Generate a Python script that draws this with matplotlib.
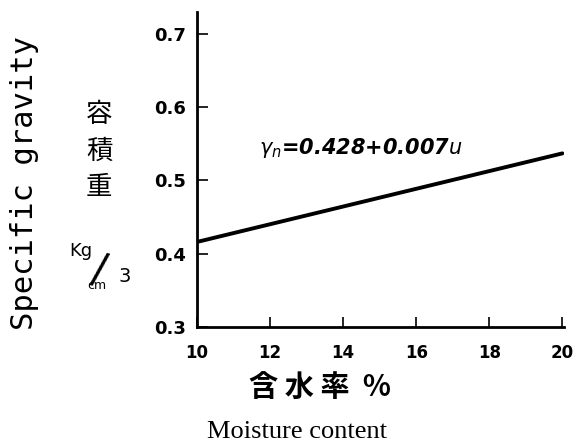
import matplotlib.pyplot as plt

plt.rcParams['font.family'] = ['DejaVu Sans', 'Noto Sans CJK JP']

# moisture content (%) and specific gravity
moisture = [10, 20]
gravity = [0.416, 0.537]

x_ticks = [10, 12, 14, 16, 18, 20]
y_ticks = [0.3, 0.4, 0.5, 0.6, 0.7]

fig = plt.figure(figsize=(5.74, 4.46), dpi=100)
ax = fig.add_axes([0.343, 0.267, 0.640, 0.706])

ax.plot(moisture, gravity, color='black', lw=2.8, solid_capstyle='round')

ax.set_xlim(10, 20.05)
ax.set_ylim(0.3, 0.73)
ax.set_xticks(x_ticks)
ax.set_yticks(y_ticks)
ax.set_xticklabels([str(t) for t in x_ticks], fontsize=12, fontweight='bold')
ax.set_yticklabels([f'{t:.1f}' for t in y_ticks], fontsize=13, fontweight='bold')
ax.tick_params(axis='x', direction='in', length=7, width=1.2, pad=12)
ax.tick_params(axis='y', direction='in', length=8, width=1.2, pad=8)

for side in ['top', 'right']:
    ax.spines[side].set_visible(False)
for side in ['left', 'bottom']:
    ax.spines[side].set_linewidth(2)

ax.text(11.7, 0.545, r'$\gamma_n$=0.428+0.007$u$', fontsize=15, fontweight='bold',
        style='italic', va='center')

# y axis labels
fig.text(0.042, 0.59, 'Specific gravity', rotation=90, fontsize=22,
         family='DejaVu Sans Mono', ha='center', va='center')
fig.text(0.173, 0.661, '容\n積\n重', fontsize=19, family='Noto Sans CJK JP',
         ha='center', va='center', linespacing=1.45)
# unit Kg/cm3 written as a slanted fraction
fig.text(0.141, 0.437, 'Kg', fontsize=13, ha='center', va='center')
fig.text(0.172, 0.392, '/', fontsize=30, rotation=-12, ha='center', va='center')
fig.text(0.168, 0.36, 'cm', fontsize=9, ha='center', va='center')
fig.text(0.218, 0.379, '3', fontsize=14, ha='center', va='center')

# x axis labels
fig.text(0.557, 0.132, '含 水 率  %', fontsize=21, fontweight='bold',
         family=['Noto Sans CJK JP', 'DejaVu Sans'], ha='center', va='center')
fig.text(0.518, 0.031, 'Moisture content', fontsize=19, family='Liberation Serif',
         ha='center', va='center')

fig.savefig('out.png', dpi=100)
